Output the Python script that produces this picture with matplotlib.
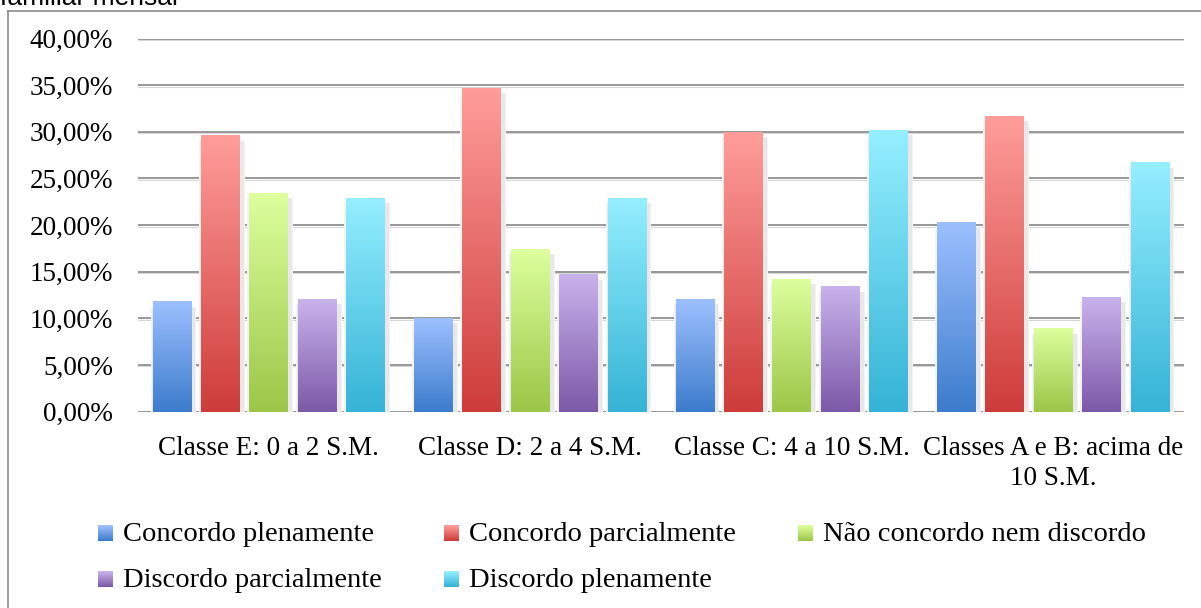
import numpy as np
import matplotlib
matplotlib.use("Agg")
import matplotlib.pyplot as plt
from matplotlib.colors import to_rgb
from matplotlib.legend_handler import HandlerBase
from matplotlib.patches import Rectangle
from matplotlib.lines import Line2D
from matplotlib.ticker import FuncFormatter

# ---- data -------------------------------------------------------------
categories = [
    "Classe E: 0 a 2 S.M.",
    "Classe D: 2 a 4 S.M.",
    "Classe C: 4 a 10 S.M.",
    "Classes A e B: acima de\n10 S.M.",
]
series_names = [
    "Concordo plenamente",
    "Concordo parcialmente",
    "Não concordo nem discordo",
    "Discordo parcialmente",
    "Discordo plenamente",
]
concordo_plenamente = [11.8, 10.0, 12.1, 20.3]
concordo_parcialmente = [29.6, 34.7, 30.0, 31.7]
nao_concordo_nem_discordo = [23.4, 17.4, 14.2, 8.9]
discordo_parcialmente = [12.1, 14.7, 13.4, 12.3]
discordo_plenamente = [22.9, 22.9, 30.2, 26.7]
y_ticks = [0, 5, 10, 15, 20, 25, 30, 35, 40]

series_values = [
    concordo_plenamente,
    concordo_parcialmente,
    nao_concordo_nem_discordo,
    discordo_parcialmente,
    discordo_plenamente,
]

# light (top) -> dark (bottom) fill for each series
gradients = [
    ("#9DC0FF", "#3C7CCC"),
    ("#FF9D9B", "#CD3C3A"),
    ("#DDFF9D", "#9CC648"),
    ("#C9B3EC", "#7C59A8"),
    ("#95EFFF", "#35B3D6"),
]

# ---- figure -----------------------------------------------------------
W, H, DPI = 1201, 608, 100
plt.rcParams["font.family"] = ["Liberation Serif", "DejaVu Serif"]
FS = 19.5
FS_LEG = 20.5

fig = plt.figure(figsize=(W / DPI, H / DPI), dpi=DPI)
ax_l, ax_r, ax_b, ax_t = 138, 1184, 411.7, 38.5
ax = fig.add_axes([ax_l / W, 1 - ax_b / H, (ax_r - ax_l) / W, (ax_b - ax_t) / H])

x = np.arange(len(categories))
step = 0.185
width = 0.149
ymax = 40

ax.set_xlim(-0.5, len(categories) - 0.5)
ax.set_ylim(0, ymax)

# size of one pixel in data units
px_x = len(categories) / (ax_r - ax_l)
px_y = ymax / (ax_b - ax_t)

# gridlines with a faint lower edge
for t in y_ticks:
    ax.axhline(t, color="#868686", lw=1.2, zorder=0.5)
    ax.axhline(t - 1.4 * px_y, color="#d6d6d6", lw=0.8, zorder=0.4)

for i, (vals, (top, bot)) in enumerate(zip(series_values, gradients)):
    bars = ax.bar(x + (i - 2) * step, vals, width, color="none",
                  edgecolor="none", zorder=3, label=series_names[i])
    c_top, c_bot = np.array(to_rgb(top)), np.array(to_rgb(bot))
    grad = np.linspace(0, 1, 256)[:, None, None]
    img = c_top * (1 - grad) + c_bot * grad
    for rect in bars:
        x0, w, h = rect.get_x(), rect.get_width(), rect.get_height()
        # soft shadow around the bar
        ax.add_patch(Rectangle((x0 - 2 * px_x, -3 * px_y), w + 7 * px_x,
                               h - 2 * px_y, facecolor="#f3f3f3",
                               edgecolor="none", zorder=1))
        ax.add_patch(Rectangle((x0 - 0.5 * px_x, -2 * px_y), w + 4.5 * px_x,
                               h - 3 * px_y, facecolor="#e8e8e8",
                               edgecolor="none", zorder=1.1))
        ax.imshow(img, extent=[x0, x0 + w, 0, h], origin="upper",
                  aspect="auto", zorder=2, interpolation="bilinear")

ax.set_xlim(-0.5, len(categories) - 0.5)
ax.set_ylim(0, ymax)

for s in ax.spines.values():
    s.set_visible(False)
ax.set_yticks(y_ticks)
ax.yaxis.set_major_formatter(FuncFormatter(lambda v, p: f"{v:.2f}%".replace(".", ",")))
ax.set_xticks(x)
ax.set_xticklabels(categories, linespacing=1.28)
ax.tick_params(axis="y", length=0, pad=18, labelsize=FS, labelcolor="black")
ax.tick_params(axis="x", length=0, pad=17.5, labelsize=FS, labelcolor="black")


# ---- legend with gradient swatches -------------------------------------
class GradientSwatch(HandlerBase):
    def __init__(self, top, bottom, steps=16):
        super().__init__()
        self.top = np.array(to_rgb(top))
        self.bottom = np.array(to_rgb(bottom))
        self.steps = steps

    def create_artists(self, legend, orig_handle, xdescent, ydescent,
                       width, height, fontsize, trans):
        arts = []
        sw_h = 0.55 * fontsize
        for k in range(self.steps):
            f = k / (self.steps - 1)
            col = self.top * (1 - f) + self.bottom * f
            y0 = sw_h * (1 - (k + 1) / self.steps)
            arts.append(Rectangle((-xdescent, y0), width, sw_h / self.steps + 0.2,
                                  facecolor=col, edgecolor="none", transform=trans))
        return arts


handles = [Rectangle((0, 0), 1, 1) for _ in series_names]
hmap = {h: GradientSwatch(*g) for h, g in zip(handles, gradients)}
order = [0, 3, 1, 4, 2]
fig.legend([handles[k] for k in order], [series_names[k] for k in order],
           handler_map=hmap, ncol=3, loc="upper left",
           bbox_to_anchor=(98 / W, 1 - 521 / H), frameon=False,
           fontsize=FS_LEG, borderpad=0, borderaxespad=0,
           handlelength=0.52, handleheight=0.7, handletextpad=0.35,
           columnspacing=2.2, labelspacing=0.72)

# ---- outer frame and caption fragment ----------------------------------
fig.add_artist(Line2D([8.3 / W, 1], [1 - 10.8 / H] * 2, color="#8a8a8a", lw=1.2))
fig.add_artist(Line2D([8.3 / W] * 2, [0, 1 - 10.8 / H], color="#8a8a8a", lw=1.2))
fig.text(0.0, 1 - 5 / H, "familiar mensal", family="Liberation Sans",
         fontsize=19, va="baseline", ha="left")

fig.savefig("out.png", dpi=DPI)
